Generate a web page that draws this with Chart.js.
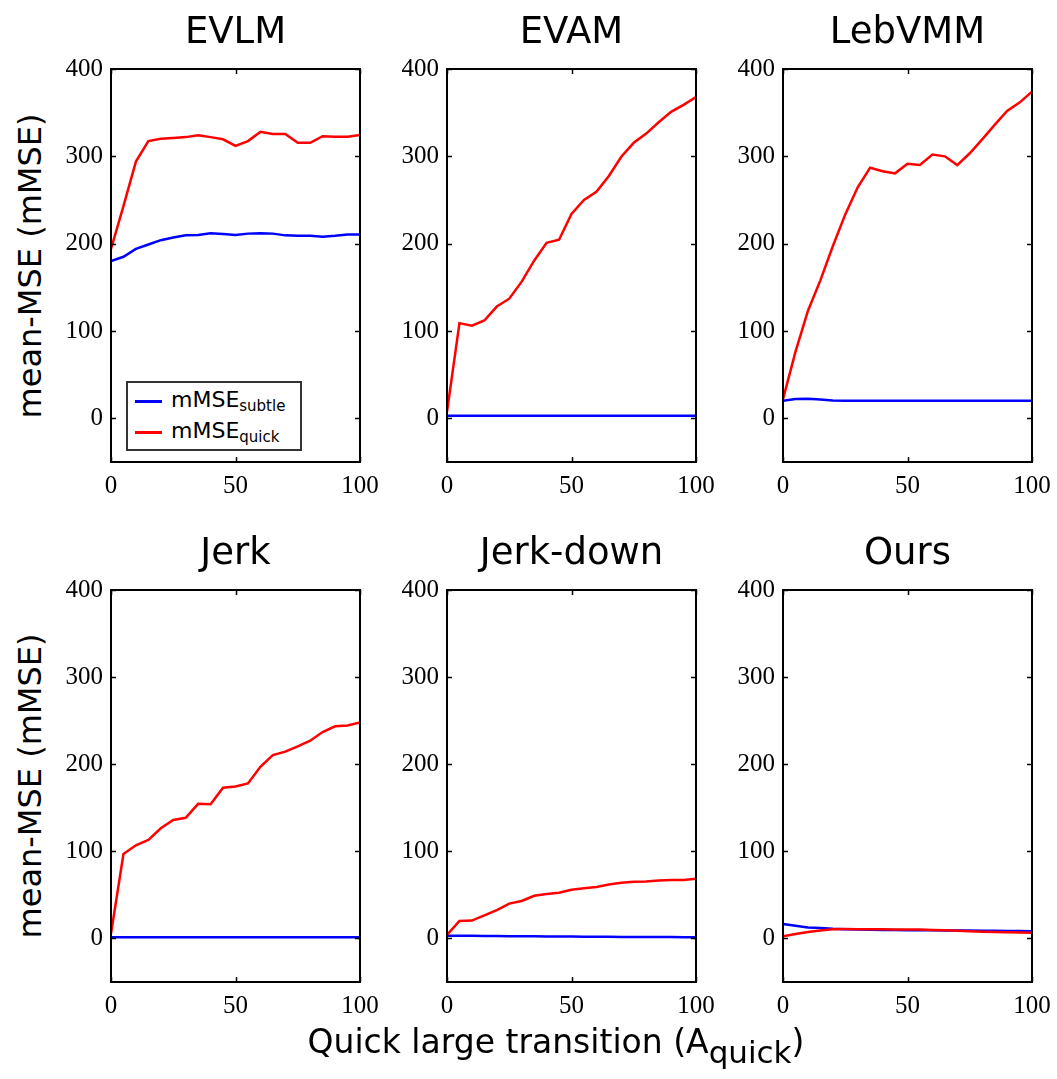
<!DOCTYPE html>
<html>
<head>
<meta charset="utf-8">
<script src="https://cdn.jsdelivr.net/npm/chart.js@4/dist/chart.umd.min.js"></script>
<style>
  html, body { margin: 0; padding: 0; background: #fff; }
  #wrap { position: relative; width: 1057px; height: 1079px; background: #fff; overflow: hidden; font-family: "DejaVu Sans", sans-serif; color: #000; }
  canvas { position: absolute; }
  .ptitle { position: absolute; font-size: 37px; line-height: 37px; transform: translateX(-50%); white-space: nowrap; }
  .ylab { position: absolute; font-size: 32px; line-height: 32px; transform: translate(-50%, -50%) rotate(-90deg); white-space: nowrap; }
  .xlab { position: absolute; font-size: 33px; line-height: 33px; transform: translateX(-50%); white-space: nowrap; }
  .legend { position: absolute; border: 2px solid #333; background: #fff; box-sizing: border-box; }
  .lline { position: absolute; height: 2.5px; }
  .ltext { position: absolute; font-size: 22px; line-height: 22px; white-space: nowrap; }
  .ltext sub { font-size: 15px; vertical-align: -4px; line-height: 0; }
</style>
</head>
<body>
<div id="wrap"></div>
<script>
// ---- data ----
const xValues = [0, 5, 10, 15, 20, 25, 30, 35, 40, 45, 50, 55, 60, 65, 70, 75, 80, 85, 90, 95, 100];
const xTicks = [0, 50, 100];
const yTicks = [0, 100, 200, 300, 400];
const panelTitles = ["EVLM", "EVAM", "LebVMM", "Jerk", "Jerk-down", "Ours"];

const evlmSubtle = [180, 185, 194, 199, 204, 207, 209.5, 210, 212, 211, 210, 211.5, 212, 211.5, 209.5, 209, 209, 208, 209, 210.5, 210.5];
const evlmQuick  = [194, 243, 294, 317.5, 320, 321, 322, 324, 322, 319.5, 312, 317.5, 328, 325.5, 325.5, 315.5, 315.5, 323, 322.5, 322.5, 324.5];

const evamSubtle = [3, 3, 3, 3, 3, 3, 3, 3, 3, 3, 3, 3, 3, 3, 3, 3, 3, 3, 3, 3, 3];
const evamQuick  = [7.5, 109, 106, 112, 128, 137, 156.5, 180.5, 201, 204.5, 234, 250, 259.5, 277.5, 299.5, 315.5, 326, 339, 351, 359, 368];

const lebSubtle = [20, 22, 22.5, 21.5, 20.5, 20, 20, 20, 20, 20, 20, 20, 20, 20, 20, 20, 20, 20, 20, 20, 20];
const lebQuick  = [22, 76, 123, 158, 197, 233.5, 264.5, 287, 283, 280.5, 291.5, 290, 302, 300, 290, 303.5, 319.5, 336, 352, 361.5, 374];

const jerkSubtle = [1.5, 1.5, 1.5, 1.5, 1.5, 1.5, 1.5, 1.5, 1.5, 1.5, 1.5, 1.5, 1.5, 1.5, 1.5, 1.5, 1.5, 1.5, 1.5, 1.5, 1.5];
const jerkQuick  = [5.5, 97, 107, 113, 126.5, 136, 138.5, 154.5, 154, 173, 174.5, 178, 197, 210.5, 214.5, 220.5, 227, 237, 243.5, 244.5, 248];

const jdSubtle = [3, 3, 3, 2.8, 2.7, 2.6, 2.5, 2.4, 2.3, 2.2, 2.1, 2, 2, 1.9, 1.8, 1.8, 1.7, 1.6, 1.6, 1.5, 1.5];
const jdQuick  = [4, 20, 20.5, 26.5, 32.5, 40, 43, 49, 51, 52.5, 56, 57.5, 59, 62, 64, 65, 65.5, 66.5, 67, 67, 68.5];

const oursSubtle = [16.5, 14.5, 12.5, 12, 11, 10.6, 10.3, 10, 9.8, 9.6, 9.5, 9.4, 9.3, 9.2, 9.1, 9, 8.9, 8.8, 8.6, 8.5, 8.4];
const oursQuick  = [2.5, 5, 7.5, 9, 10.5, 10.7, 10.6, 10.5, 10.5, 10.4, 10.4, 10.3, 9.8, 9.3, 8.8, 8.3, 7.8, 7.4, 7, 6.7, 6.5];

const subtleSeries = [evlmSubtle, evamSubtle, lebSubtle, jerkSubtle, jdSubtle, oursSubtle];
const quickSeries  = [evlmQuick, evamQuick, lebQuick, jerkQuick, jdQuick, oursQuick];

// ---- layout ----
const plotLefts = [111, 447, 783];
const plotTops = [69, 590];
const plotW = 249;
const plotHs = [393, 392];
const padL = 60, padT = 26, padR = 32, padB = 44;

const wrap = document.getElementById('wrap');

const framePlugin = {
  id: 'frame',
  afterDraw(chart) {
    const { ctx, chartArea: a, scales } = chart;
    const x = scales.x, y = scales.y;
    const t = 5;
    ctx.save();
    ctx.strokeStyle = '#000';
    ctx.lineWidth = 1.5;
    ctx.beginPath();
    y.ticks.forEach(tk => {
      const py = Math.round(y.getPixelForValue(tk.value)) + 0.5;
      ctx.moveTo(a.left, py); ctx.lineTo(a.left + t, py);
      ctx.moveTo(a.right, py); ctx.lineTo(a.right - t, py);
    });
    x.ticks.forEach(tk => {
      const px = Math.round(x.getPixelForValue(tk.value)) + 0.5;
      ctx.moveTo(px, a.bottom); ctx.lineTo(px, a.bottom - t);
      ctx.moveTo(px, a.top); ctx.lineTo(px, a.top + t);
    });
    ctx.stroke();
    ctx.lineWidth = 2;
    ctx.strokeRect(a.left, a.top, a.right - a.left, a.bottom - a.top);
    ctx.restore();
  }
};

const tickFont = { family: '"Liberation Serif", "DejaVu Serif", serif', size: 25 };

for (let i = 0; i < 6; i++) {
  const col = i % 3, row = Math.floor(i / 3);
  const L = plotLefts[col], T = plotTops[row], H = plotHs[row];
  const cv = document.createElement('canvas');
  const cw = plotW + padL + padR, ch = H + padT + padB;
  cv.width = cw; cv.height = ch;
  cv.style.left = (L - padL) + 'px';
  cv.style.top = (T - padT) + 'px';
  cv.style.width = cw + 'px'; cv.style.height = ch + 'px';
  wrap.appendChild(cv);

  const toPts = arr => xValues.map((xv, k) => ({ x: xv, y: arr[k] }));

  new Chart(cv.getContext('2d'), {
    type: 'line',
    data: {
      datasets: [
        { label: 'mMSE quick', data: toPts(quickSeries[i]), borderColor: '#ff0000', borderWidth: 2.5, pointRadius: 0, tension: 0, fill: false },
        { label: 'mMSE subtle', data: toPts(subtleSeries[i]), borderColor: '#0000ff', borderWidth: 2.5, pointRadius: 0, tension: 0, fill: false }
      ]
    },
    options: {
      responsive: false,
      animation: false,
      devicePixelRatio: 1,
      layout: { padding: { left: 0, top: padT, right: padR, bottom: 0 } },
      plugins: { legend: { display: false }, tooltip: { enabled: false }, title: { display: false } },
      scales: {
        x: {
          type: 'linear', min: 0, max: 100,
          grid: { display: false, drawTicks: false },
          border: { display: false },
          afterBuildTicks: s => { s.ticks = xTicks.map(v => ({ value: v })); },
          afterFit: s => { s.height = padB; },
          ticks: { font: tickFont, color: '#000', padding: 9, maxRotation: 0, autoSkip: false }
        },
        y: {
          type: 'linear', min: -50, max: 400,
          grid: { display: false, drawTicks: false },
          border: { display: false },
          afterBuildTicks: s => { s.ticks = yTicks.map(v => ({ value: v })); },
          afterFit: s => { s.width = padL; },
          ticks: { font: tickFont, color: '#000', padding: 8, autoSkip: false }
        }
      }
    },
    plugins: [framePlugin]
  });

  const tt = document.createElement('div');
  tt.className = 'ptitle';
  tt.textContent = panelTitles[i];
  tt.style.left = (L + plotW / 2) + 'px';
  tt.style.top = (T - 57) + 'px';
  wrap.appendChild(tt);
}

// y-axis labels
[266, 786].forEach(cy => {
  const d = document.createElement('div');
  d.className = 'ylab';
  d.textContent = 'mean-MSE (mMSE)';
  d.style.left = '30px';
  d.style.top = cy + 'px';
  wrap.appendChild(d);
});

// x-axis label
const xl = document.createElement('div');
xl.className = 'xlab';
xl.innerHTML = 'Quick large transition (A<span style="font-size:31px; position:relative; top:10px;">quick</span>)';
xl.style.left = '556px';
xl.style.top = '1025px';
wrap.appendChild(xl);

// legend (first panel)
const lg = document.createElement('div');
lg.className = 'legend';
lg.style.left = '126px'; lg.style.top = '381px';
lg.style.width = '176px'; lg.style.height = '70px';
wrap.appendChild(lg);
const legendItems = [
  { color: '#0000ff', main: 'mMSE', sub: 'subtle', y: 401 },
  { color: '#ff0000', main: 'mMSE', sub: 'quick', y: 432 }
];
legendItems.forEach(it => {
  const ln = document.createElement('div');
  ln.className = 'lline';
  ln.style.background = it.color;
  ln.style.left = '135px'; ln.style.width = '27px';
  ln.style.top = (it.y - 1) + 'px';
  wrap.appendChild(ln);
  const tx = document.createElement('div');
  tx.className = 'ltext';
  tx.innerHTML = it.main + '<sub>' + it.sub + '</sub>';
  tx.style.left = '171px';
  tx.style.top = (it.y - 12) + 'px';
  wrap.appendChild(tx);
});
</script>
</body>
</html>
